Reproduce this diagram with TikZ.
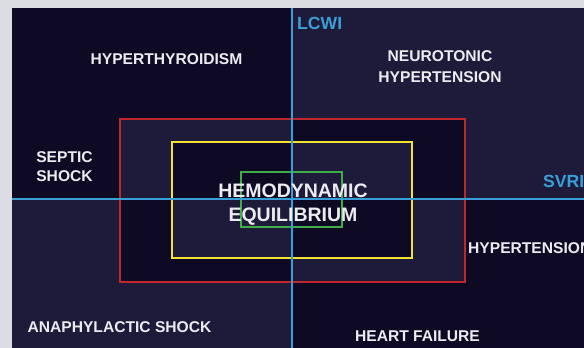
\documentclass[tikz,border=0pt]{standalone}
\usepackage{fontspec}
\setmainfont{Liberation Sans}
\usepackage{tikz}
\definecolor{pagegray}{HTML}{DCDDE3}
\definecolor{quaddark}{HTML}{0F0A24}
\definecolor{quadlight}{HTML}{1E1B3A}
\definecolor{axisblue}{HTML}{3A9FD6}
\definecolor{zonered}{HTML}{C0272D}
\definecolor{zoneyellow}{HTML}{F2E231}
\definecolor{zonegreen}{HTML}{3FAE49}
\definecolor{labeltext}{HTML}{ECECF0}

\begin{document}
\begin{tikzpicture}[x=1pt, y=-1pt,
    zonetext/.style={font=\bfseries\fontsize{15.6}{20}\selectfont, color=labeltext, inner sep=0pt, align=center, anchor=base},
    axistext/.style={font=\bfseries\fontsize{17.6}{20}\selectfont, color=axisblue, inner sep=0pt, anchor=base west}]
    \useasboundingbox (0,0) rectangle (584,348);
    \clip (0,0) rectangle (584,348);

    % Page and panel
    \fill[pagegray] (0,0) rectangle (584,348);
    \fill[quaddark] (11.5,8) rectangle (292,199);
    \fill[quadlight] (292,8) rectangle (584,199);
    \fill[quadlight] (11.5,199) rectangle (292,348);
    \fill[quaddark] (292,199) rectangle (584,348);

    % Band between red and yellow frames (inverted shading)
    \fill[quadlight] (120,119) rectangle (292,199);
    \fill[quaddark] (292,119) rectangle (465,199);
    \fill[quaddark] (120,199) rectangle (292,282);
    \fill[quadlight] (292,199) rectangle (465,282);

    % Inside the yellow frame
    \fill[quaddark] (172,142) rectangle (292,199);
    \fill[quadlight] (292,142) rectangle (412,199);
    \fill[quadlight] (172,199) rectangle (292,258);
    \fill[quaddark] (292,199) rectangle (412,258);

    % Frames
    \draw[zonered, line width=2.5pt] (120,119) rectangle (465,282);
    \draw[zoneyellow, line width=2.5pt] (172,142) rectangle (412,258);
    \draw[zonegreen, line width=2.2pt] (241,172) rectangle (342,227);

    % Axes
    \draw[axisblue, line width=2pt] (292,8) -- (292,348);
    \draw[axisblue, line width=2pt] (11.5,199) -- (584,199);
    \node[axistext] (lcwi) at (297,30) {LCWI};
    \node[axistext] (svri) at (543,187) {SVRI};

    % Quadrant labels (multi-line nodes sit on their last baseline)
    \node[zonetext] (hyperthyroid) at (166.5,64) {HYPERTHYROIDISM};
    \node[zonetext, font=\bfseries\fontsize{15.6}{20.5}\selectfont] (neurotonic) at (440,82) {NEUROTONIC\\HYPERTENSION};
    \node[zonetext, font=\bfseries\fontsize{15.6}{19}\selectfont] (septic) at (64.5,181) {SEPTIC\\SHOCK};
    \node[zonetext, anchor=base west] (hypertension) at (468,253) {HYPERTENSION};
    \node[zonetext] (anaphylactic) at (119.5,332) {ANAPHYLACTIC SHOCK};
    \node[zonetext] (heartfail) at (417.5,341) {HEART FAILURE};

    % Centre
    \node[zonetext, font=\bfseries\fontsize{19.5}{24}\selectfont] (equilibrium) at (293,221) {HEMODYNAMIC\\EQUILIBRIUM};
\end{tikzpicture}
\end{document}
